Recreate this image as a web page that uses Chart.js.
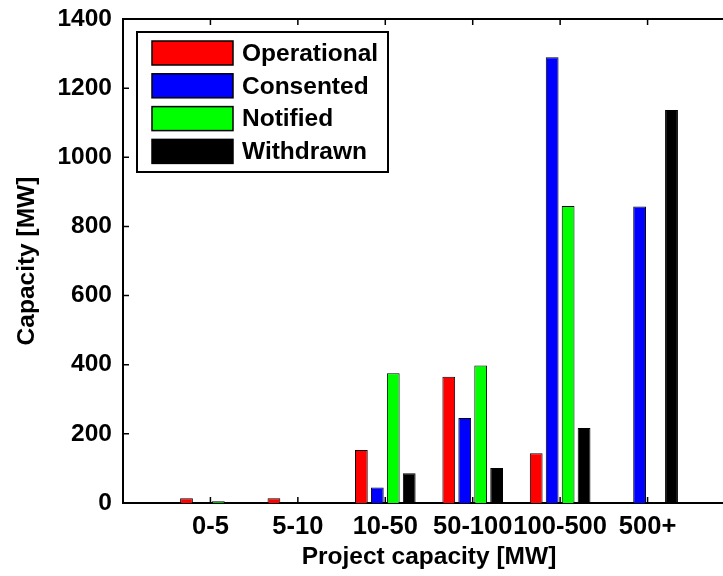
<!DOCTYPE html>
<html>
<head>
<meta charset="utf-8">
<script src="https://cdn.jsdelivr.net/npm/chart.js@4/dist/chart.umd.min.js"></script>
<style>
  html, body { margin: 0; padding: 0; background: #fff; overflow: hidden; }
  #wrap { position: relative; width: 745px; height: 576px; }
</style>
</head>
<body>
<div id="wrap"><canvas id="capacity_chart"></canvas></div>
<script>
const categories = ['0-5', '5-10', '10-50', '50-100', '100-500', '500+'];

const operational = [14, 14, 153, 365, 144, 0];
const consented   = [0, 0, 45, 246, 1289, 858];
const notified    = [5, 0, 375, 398, 859, 0];
const withdrawn   = [0, 0, 86, 101, 217, 1137];

const yTicks = [0, 200, 400, 600, 800, 1000, 1200, 1400];

// bars sit on a linear x axis so the range can run one group past each end
const toPoints = vals => vals.map((v, i) => ({ x: i, y: v }));

Chart.defaults.font.family = "'Liberation Sans', Arial, sans-serif";
Chart.defaults.font.size = 24.5;
Chart.defaults.font.weight = 'bold';
Chart.defaults.color = '#000';

// MATLAB style: box on top, ticks pointing inward
const matlabAxes = {
    id: 'matlabAxes',
    afterDatasetsDraw(chart) {
        const { ctx, chartArea: a, scales: { x, y } } = chart;
        const len = 6;
        ctx.save();
        ctx.strokeStyle = '#000';
        ctx.lineWidth = 1.5;
        ctx.beginPath();
        y.ticks.forEach((t, i) => {
            const py = y.getPixelForTick(i);
            ctx.moveTo(a.left, py);
            ctx.lineTo(a.left + len, py);
        });
        x.ticks.forEach((t, i) => {
            const px = x.getPixelForTick(i);
            ctx.moveTo(px, a.bottom);
            ctx.lineTo(px, a.bottom - len);
            ctx.moveTo(px, a.top);
            ctx.lineTo(px, a.top + len);
        });
        ctx.stroke();
        ctx.lineWidth = 2;
        ctx.beginPath();
        ctx.moveTo(a.left, a.top);
        ctx.lineTo(a.right, a.top);
        ctx.stroke();
        ctx.restore();
    }
};

const boxLegend = {
    id: 'boxLegend',
    afterDraw(chart) {
        const { ctx } = chart;
        const left = 137, top = 32, w = 251, h = 140;
        ctx.save();
        ctx.fillStyle = '#fff';
        ctx.fillRect(left, top, w, h);
        ctx.strokeStyle = '#000';
        ctx.lineWidth = 2;
        ctx.strokeRect(left, top, w, h);
        ctx.font = "bold 24.5px 'Liberation Sans', Arial, sans-serif";
        ctx.textBaseline = 'middle';
        chart.data.datasets.forEach((ds, i) => {
            const rowY = 41 + i * 32.8;
            ctx.fillStyle = ds.backgroundColor;
            ctx.fillRect(152, rowY, 81, 24);
            ctx.lineWidth = 1.5;
            ctx.strokeRect(152, rowY, 81, 24);
            ctx.fillStyle = '#000';
            ctx.fillText(ds.label, 242, rowY + 13);
        });
        ctx.restore();
    }
};

const ctx = document.getElementById('capacity_chart').getContext('2d');
const capChart = new Chart(ctx, {
    type: 'bar',
    data: {
        datasets: [
            { label: 'Operational', data: toPoints(operational), backgroundColor: '#ff0000' },
            { label: 'Consented', data: toPoints(consented), backgroundColor: '#0000ff' },
            { label: 'Notified', data: toPoints(notified), backgroundColor: '#00ff00' },
            { label: 'Withdrawn', data: toPoints(withdrawn), backgroundColor: '#000000' }
        ]
    },
    options: {
        responsive: true,
        maintainAspectRatio: false,
        animation: false,
        layout: { padding: { top: 19, right: 10, left: 0, bottom: 0 } },
        datasets: {
            bar: {
                borderColor: '#000',
                borderWidth: 1,
                categoryPercentage: 0.73,
                barPercentage: 0.8
            }
        },
        plugins: {
            legend: { display: false },
            tooltip: { enabled: false }
        },
        scales: {
            x: {
                type: 'linear',
                offset: false,
                min: -1,
                max: 6,
                grid: { display: false, drawTicks: false, offset: false },
                border: { display: true, color: '#000', width: 2 },
                afterBuildTicks: scale => {
                    scale.ticks = categories.map((c, i) => ({ value: i }));
                },
                ticks: {
                    padding: 9,
                    font: { size: 25.5 },
                    callback: value => categories[value]
                },
                title: {
                    display: true,
                    text: 'Project capacity [MW]',
                    padding: { top: 0, bottom: 4 }
                },
                afterFit: scale => { scale.height = 73; }
            },
            y: {
                min: 0,
                max: 1400,
                grid: { display: false, drawTicks: false },
                border: { display: true, color: '#000', width: 2 },
                afterBuildTicks: scale => {
                    scale.ticks = yTicks.map(v => ({ value: v }));
                },
                ticks: {
                    padding: 11,
                    callback: value => String(value)
                },
                title: {
                    display: true,
                    text: 'Capacity [MW]',
                    padding: { top: 13, bottom: 0 }
                },
                // fixed width, and no extra room for the end labels
                afterFit: scale => {
                    scale.width = 123;
                    scale.paddingTop = 0;
                    scale.paddingBottom = 0;
                }
            }
        }
    },
    plugins: [matlabAxes, boxLegend]
});
</script>
</body>
</html>
